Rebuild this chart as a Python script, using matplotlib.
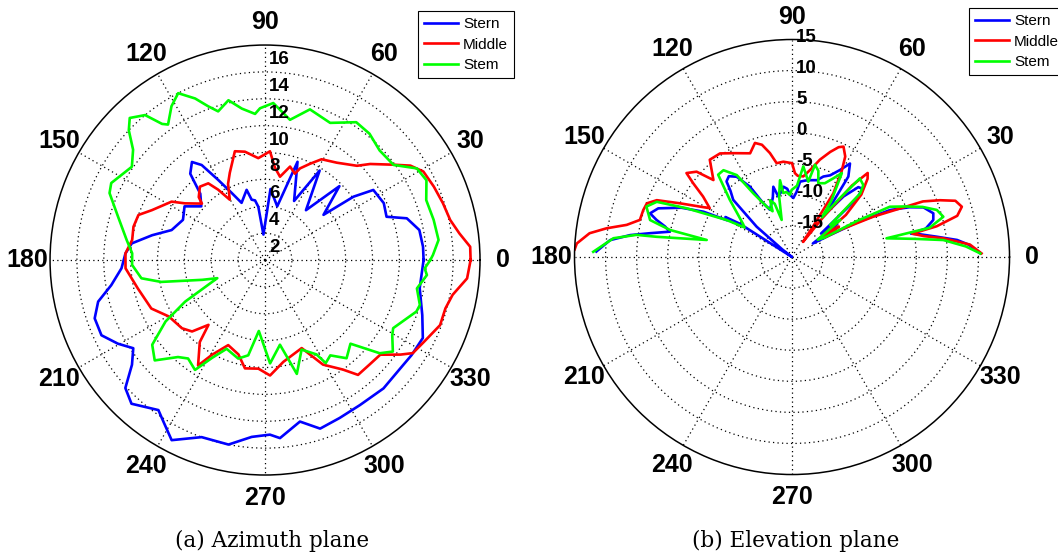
import numpy as np
import matplotlib.pyplot as plt
from matplotlib.transforms import offset_copy

# azimuth plane, angle in degrees and radius
az_stern_deg = [0, 4.8, 11, 16.4, 19.6, 25.6, 32.9, 35.6, 37.7, 44.8, 50.6, 58.6, 63.8, 71.7, 77.2,
                85.6, 93.6, 97.2, 99.5, 102.5, 104.7, 112.3, 116.5, 120.3, 123.7, 126.7, 130.9, 134.3,
                139.9, 146.3, 153.9, 162.2, 167.6, 172.9, 177.3, 183.3, 189.3, 194, 198.9, 204.7, 209.6,
                213.8, 218.2, 222.5, 227.1, 234.6, 237.8, 242.6, 250.3, 258.8, 265.7, 271.6, 274.8,
                282.2, 288.1, 295.3, 303.2, 312.7, 321.3, 327, 333.7, 340.7, 349.7, 360]
az_stern = [13.8, 13.8, 13.7, 13.0, 11.6, 11.8, 11.6, 10.1, 7.5, 9.8, 6.8, 9.8, 6.9, 9.7, 6.1,
            7.3, 3.9, 6.0, 6.5, 6.6, 7.4, 6.6, 7.6, 8.9, 10.5, 11.1, 10.5, 8.9,
            8.2, 9.2, 8.8, 9.3, 10.6, 12.0, 12.4, 12.7, 13.6, 14.8, 15.4, 15.4, 14.6,
            13.8, 14.6, 16.1, 16.6, 15.7, 16.2, 17.1, 16.0, 16.0, 15.2, 15.0, 15.3,
            14.3, 15.2, 15.0, 14.9, 15.0, 14.9, 15.0, 15.1, 14.4, 13.7, 13.8]

az_middle_deg = [0, 3.7, 7.8, 12.2, 17.7, 23.5, 29.2, 33, 36.6, 42.4, 45.7, 53.6, 60.7, 65, 69.1,
                 70.9, 75, 79.8, 83.8, 87.4, 90.9, 93.8, 100.5, 105.5, 112, 115.9, 120.3, 123.7, 126.5,
                 131.6, 136.5, 138.2, 144.7, 148, 156.2, 160.4, 165.8, 171.4, 177.3, 183.4, 192.6,
                 203.1, 210.4, 219.4, 224.4, 228.9, 231.5, 237.6, 240.7, 246.6, 254.3, 259.5, 266.5,
                 272.5, 280.2, 292.6, 299, 305.4, 309, 315, 320.6, 325.1, 327.8, 332.7, 339.6, 345,
                 349.5, 354.8, 360]
az_middle = [17.3, 17.3, 16.6, 16.1, 15.9, 15.7, 15.5, 14.9, 13.9, 12.6, 11.8, 11.0, 10.6, 9.9, 9.3,
             8.8, 9.2, 8.3, 8.9, 10.1, 9.8, 9.6, 10.2, 10.4, 9.0, 8.3, 7.2, 8.3, 9.1,
             9.3, 8.8, 8.3, 9.3, 10.2, 11.2, 12.0, 12.1, 12.0, 12.4, 12.4, 11.7,
             11.2, 10.3, 10.0, 9.6, 8.4, 9.8, 11.3, 10.1, 8.9, 9.3, 10.2, 10.1,
             10.6, 9.7, 9.1, 10.9, 12.0, 13.0, 13.0, 13.1, 14.3, 15.0, 15.3, 15.9, 15.9,
             16.2, 17.1, 17.3]

az_stem_deg = [0, 1.7, 6.6, 13.4, 20.4, 26.3, 31.1, 36.5, 43.7, 50.4, 56.5, 64.6, 73.4, 79.9, 87,
               91.9, 93.9, 98.7, 102.9, 107.5, 110.3, 113.4, 117.5, 121.3, 125.6, 127.1, 129.6, 133.6,
               136.4, 140.1, 145, 153.4, 156.7, 163.6, 171.8, 177.1, 182.1, 188.4, 191.9, 197.5,
               200.8, 207.5, 211.7, 216.9, 222.3, 228.1, 232, 237.5, 241.5, 246.6, 254.8, 260, 265,
               272.8, 280, 285.6, 292.2, 298.6, 300.5, 304.4, 309.7, 315.6, 320.9, 324.4, 329.4,
               332, 341.2, 343.8, 349.4, 354.7, 357, 360]
az_stem = [14.3, 14.5, 15.0, 14.9, 14.8, 15.4, 15.2, 13.9, 13.8, 14.2, 14.3, 13.3, 13.7, 12.6, 13.7,
           13.3, 12.9, 13.4, 14.2, 13.6, 14.2, 15.1, 16.0, 15.4, 14.4, 14.7, 16.0, 16.6,
           16.0, 14.8, 14.1, 14.8, 14.6, 13.4, 12.4, 11.9, 11.9, 11.3, 9.9, 6.9,
           5.8, 8.7, 10.7, 12.5, 13.1, 11.7, 11.3, 11.7, 10.3, 9.2, 9.6, 9.2, 7.3,
           9.7, 8.4, 10.8, 9.2, 10.0, 10.9, 10.6, 11.5, 10.9, 13.0, 13.7, 13.0,
           12.8, 13.9, 14.0, 13.5, 14.1, 13.9, 14.3]

# elevation plane
el_stern_deg = [1.1, 4, 5.9, 8, 10, 11.1, 12, 14.7, 17.2, 20.7, 23, 25.6, 28, 30, 33, 36, 39, 42, 44,
                46.5, 49.6, 52, 55, 58.2, 61.1, 65, 68.7, 72, 76.8, 80, 83.9, 86, 88.7, 91.8, 94, 97,
                100, 102.8, 104.9, 108, 112, 115.1, 118.1, 120.9, 124.6, 128, 130.9, 133, 135.8,
                139.4, 142, 144, 146, 147.5, 149, 150.5, 152.9, 156, 160, 162.9, 164.7, 166.5,
                168.3, 170.5, 172.3, 174.7, 178.4]
el_stern = [10.3, 8.5, 6.7, 3.5, 1.0, -0.5, 2.0, 3.5, 3.8, 2.6, 0.5, -2.5, -8, -13, -16, -11, -14, -6, -4.2,
            -4.5, -7.2, -11, -4.2, -2.3, -4.0, -5.5, -6.1, -7.0, -7.3, -7.5, -7.8, -9.5, -10.5, -10.0, -9.0, -8.6,
            -9.5, -10.0, -8.3, -10.0, -11.0, -11.6, -10.2, -6.8, -4.3, -3.5, -3.9, -5.5, -6.8,
            -12.5, -18, -20, -20, -10, -7.5, -8.0, -4.0, -0.5, 2.9, 3.9, 2.6, 1.0,
            0.1, 3.2, 6.3, 9.4, 11.5]

el_middle_deg = [1.1, 4, 7, 9, 11, 12, 14, 16.5, 19, 21, 23, 26.4, 29.4, 31, 33, 35, 38, 42, 46, 48,
                 50, 52, 54, 55.5, 57, 60, 62.1, 65, 67, 70, 74, 78, 82, 86, 88, 90, 95.2, 99.3, 102,
                 105, 108, 112, 119.5, 124.8, 130.2, 135.6, 138.2, 141.5, 143.3, 145.8, 149.3, 150.7,
                 154.4, 157.2, 159.7, 162.5, 166.3, 169, 171.2, 173.3, 176.4, 178]
el_middle = [10.5, 8.7, 4.6, 1.5, -0.3, 3.8, 7.4, 8.5, 7.8, 5.5, 2.9, -5.4, -11.1, -14, -11, -14, -9, -5, -2.5, -1.8,
             -5, -12, -17, -14, -7.8, -4, -1.7, -0.4, -0.8, -2, -3.7, -5.6, -6.9, -6.9, -6.5, -4.9, -4.6, -4.7, -2.9,
             -1.3, -0.7, -2.0, -0.8, 0.3, 0.5, -2.3, 0.6, 1.7, -0.2, -2.7, -4.6, -3.6,
             0.0, 3.6, 4.9, 5.1, 5.2, 7.1, 10.2, 12.8, 14.7, 15.0]

el_stem_deg = [1.1, 3.5, 6.4, 8.4, 11.2, 12, 14.9, 18, 21, 24, 27.2, 29, 31, 34, 37.6, 40, 43, 45.3, 49.2,
               51, 53, 55, 59.3, 62.3, 66, 70.4, 73, 76, 77.8, 82.9, 86, 90.3, 92, 95, 97.8, 98.9, 102,
               105.6, 108, 111.1, 113, 116.7, 121.3, 124, 128.3, 131.9, 137.4, 142, 146, 148.1, 150.5,
               155.2, 157.8, 160.9, 165.4, 167.5, 168.7, 171.5, 171.9, 174, 178.5]
el_stem = [10.3, 8.0, 4.5, 0.0, -4.5, 2.6, 5.2, 4.5, 2.5, 0.0, -2.3, -8, -14, -15, -10.2, -12, -5, -3.7, -3.3,
           -8, -12, -9, -4.3, -5.7, -7, -7.4, -5.5, -4.7, -7.6, -5.3, -8.5, -9.2, -10, -9.5, -9.6, -7.5, -10,
           -13.8, -11, -10.2, -12, -10.9, -8.0, -4.1, -2.2, -2.2, -6.4, -9, -10.5, -11, -7.9,
           -1.3, 3.5, 4.8, 3.6, 0.1, -6.0, 2.0, 5.3, 8.9, 12.0]

names = ['Stern', 'Middle', 'Stem']
colors = ['#0000ff', '#ff0000', '#00ff00']
angle_ticks = list(range(0, 360, 30))
az_rings = [4, 6, 8, 10, 12, 14, 16]
az_labels = [2, 4, 6, 8, 10, 12, 14, 16]
el_rings = [-15, -10, -5, 0, 5, 10]
el_labels = [-15, -10, -5, 0, 5, 10, 15]

plt.rcParams['font.family'] = ['Liberation Sans', 'DejaVu Sans']

fig = plt.figure(figsize=(10.58, 5.58), dpi=100)


def polar_panel(rect, rmin, rmax, rings, labels, label_dy, series, leg_pos, caption, cap_x):
    ax = fig.add_axes(rect, projection='polar')
    ax.set_ylim(rmin, rmax)
    ax.set_yticks(rings)
    ax.set_yticklabels([])
    ax.set_xticks(np.deg2rad(angle_ticks))
    ax.set_xticklabels([])
    # matlab style dotted grid
    ax.grid(True, color='black', linestyle=(0, (1, 2.6)), linewidth=0.9)
    ax.spines['polar'].set_linewidth(1.1)

    for (deg, vals), name, col in zip(series, names, colors):
        ax.plot(np.deg2rad(deg), np.clip(vals, rmin, None), color=col, lw=1.9, label=name)

    # angle labels just outside the circle
    r_lab = rmin + 1.105 * (rmax - rmin)
    for a in angle_ticks:
        ax.text(np.deg2rad(a), r_lab, str(a), ha='center', va='center',
                fontsize=18, fontweight='bold')

    # radial labels up the 90 degree spoke
    tr = offset_copy(ax.transData, fig=fig, x=4, y=label_dy, units='dots')
    for v in labels:
        ax.text(np.pi / 2, v, str(v), transform=tr, ha='left', va='center',
                fontsize=13.5, fontweight='bold')

    leg = ax.legend(loc='upper left', bbox_to_anchor=leg_pos, bbox_transform=fig.transFigure,
                    fontsize=11, fancybox=False, edgecolor='black', framealpha=1,
                    borderaxespad=0, borderpad=0.4, handlelength=2.2,
                    handletextpad=0.35, labelspacing=0.42)
    leg.get_frame().set_linewidth(0.8)

    fig.text(cap_x, 1 - 541 / 558, caption, ha='center', va='center',
             fontsize=15.5, family='DejaVu Serif')
    return ax


polar_panel([0.0473, 0.1487, 0.4064, 0.7706], 2, 18, az_rings, az_labels, 12.5,
            [(az_stern_deg, az_stern), (az_middle_deg, az_middle), (az_stem_deg, az_stem)],
            (418 / 1058, 1 - 11 / 558), '(a) Azimuth plane', 272 / 1058)

polar_panel([0.5430, 0.1496, 0.4112, 0.7796], -20, 15, el_rings, el_labels, 2.5,
            [(el_stern_deg, el_stern), (el_middle_deg, el_middle), (el_stem_deg, el_stem)],
            (969 / 1058, 1 - 8 / 558), '(b) Elevation plane', 796 / 1058)

fig.savefig('out.png', dpi=100)
